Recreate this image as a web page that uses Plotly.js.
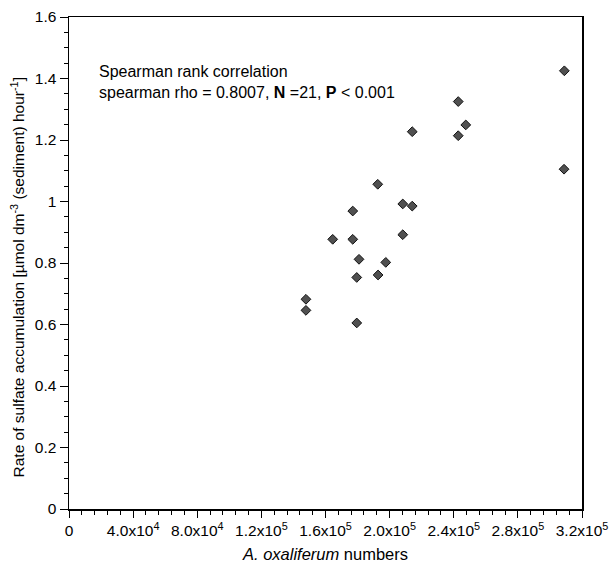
<!DOCTYPE html>
<html>
<head>
<meta charset="utf-8">
<script src="https://cdn.plot.ly/plotly-3.0.1.min.js"></script>
<style>html,body{margin:0;padding:0;background:#fff;}</style>
</head>
<body>
<div id="chart" style="width:612px;height:571px;"></div>
<script>
// A. oxaliferum numbers (x) and sulfate accumulation rate (y)
const cellNumbers = [147800, 147800, 164500, 177000, 177000, 179500, 180900, 179500,
  192600, 192800, 197600, 208200, 208200, 214100, 214100, 242800, 247500, 242800, 309000, 308800];
const sulfateRate = [0.682, 0.646, 0.877, 0.969, 0.877, 0.753, 0.812, 0.605,
  1.056, 0.761, 0.802, 0.992, 0.892, 0.985, 1.227, 1.325, 1.249, 1.214, 1.425, 1.105];

const xTickVals = [0, 40000, 80000, 120000, 160000, 200000, 240000, 280000, 320000];
const xTickText = ['0', '4.0x10<sup>4</sup>', '8.0x10<sup>4</sup>', '1.2x10<sup>5</sup>',
  '1.6x10<sup>5</sup>', '2.0x10<sup>5</sup>', '2.4x10<sup>5</sup>', '2.8x10<sup>5</sup>', '3.2x10<sup>5</sup>'];

const annotationLines = ['Spearman rank correlation',
  'spearman rho = 0.8007, <b>N</b> =21, <b>P</b> < 0.001'];
const xTitle = '<i>A. oxaliferum</i> numbers';
const yTitle = 'Rate of sulfate accumulation [µmol dm<sup>-3</sup> (sediment) hour<sup>-1</sup>]';

const font = 'Liberation Sans, Arial, sans-serif';

const trace = {
  x: cellNumbers,
  y: sulfateRate,
  type: 'scatter',
  mode: 'markers',
  marker: {symbol: 'diamond', size: 7.5, color: '#505050', line: {color: '#111', width: 1}},
  showlegend: false,
  hoverinfo: 'x+y'
};

const layout = {
  width: 612,
  height: 571,
  margin: {l: 69, r: 30, t: 17, b: 62},
  paper_bgcolor: '#fff',
  plot_bgcolor: '#fff',
  font: {family: font, color: '#000', size: 16},
  xaxis: {
    range: [0, 320000],
    tickmode: 'array',
    tickvals: xTickVals,
    ticktext: xTickText,
    ticks: 'outside',
    ticklen: 7,
    tickwidth: 1,
    tickcolor: '#000',
    minor: {dtick: 8000, ticks: 'outside', ticklen: 4, tickcolor: '#000', tickwidth: 1},
    showgrid: false,
    zeroline: false,
    showline: true,
    linecolor: '#000',
    linewidth: 1.5,
    mirror: true,
    tickfont: {size: 15.5},
    title: {text: xTitle, font: {size: 16.5}, standoff: 10}
  },
  yaxis: {
    range: [0, 1.6],
    dtick: 0.2,
    tick0: 0,
    ticks: 'outside',
    ticklen: 8,
    tickwidth: 1,
    tickcolor: '#000',
    minor: {dtick: 0.05, ticks: 'outside', ticklen: 4, tickcolor: '#000', tickwidth: 1},
    showgrid: false,
    zeroline: false,
    showline: true,
    linecolor: '#000',
    linewidth: 1.5,
    mirror: true,
    tickfont: {size: 15.5}
  },
  annotations: [
    {xref: 'paper', yref: 'paper', x: 0.055, y: 0.89, xanchor: 'left', yanchor: 'middle',
     text: annotationLines[0], showarrow: false, font: {size: 16}},
    {xref: 'paper', yref: 'paper', x: 0.055, y: 0.847, xanchor: 'left', yanchor: 'middle',
     text: annotationLines[1], showarrow: false, font: {size: 16}},
    {xref: 'paper', yref: 'paper', x: -0.1, y: 0.47, xanchor: 'center', yanchor: 'middle',
     textangle: -90, text: yTitle, showarrow: false, font: {size: 15.5}}
  ]
};

Plotly.newPlot('chart', [trace], layout, {displayModeBar: false, staticPlot: true});
</script>
</body>
</html>
